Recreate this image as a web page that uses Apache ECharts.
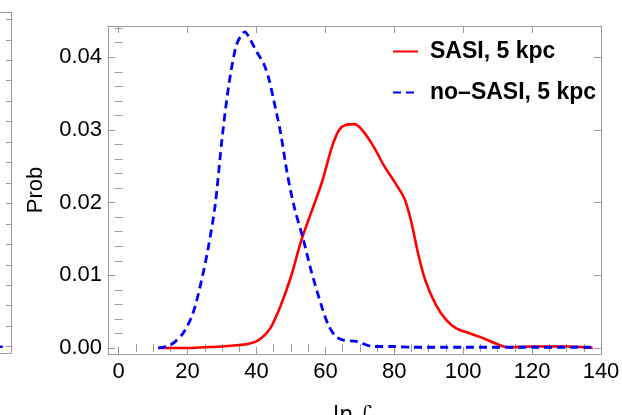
<!DOCTYPE html>
<html>
<head>
<meta charset="utf-8">
<script src="https://cdn.jsdelivr.net/npm/echarts@6/dist/echarts.min.js"></script>
<style>
html,body{margin:0;padding:0;background:#fff;}
#c{width:622px;height:415px;}
</style>
</head>
<body>
<div id="c"></div>
<script>
// ---- data ----
const sasiX = [11.5, 20, 25, 30, 35, 38, 41, 44, 47, 50, 53, 56, 59, 62, 64, 66, 68.5, 71, 74, 77, 80, 83, 85, 87, 89, 92, 95, 98, 102, 106, 110, 113, 120, 130, 137.6];
const sasiY = [0, 0, 0.0001, 0.0002, 0.0004, 0.0006, 0.0012, 0.0027, 0.0058, 0.0098, 0.0148, 0.0188, 0.0228, 0.0278, 0.0300, 0.0307, 0.0308, 0.0298, 0.0277, 0.0251, 0.0229, 0.0205, 0.0172, 0.0128, 0.0093, 0.0060, 0.0039, 0.0027, 0.0020, 0.0013, 0.0005, 0.0001, 0.0002, 0.0002, 0];

const noSasiX = [11.5, 15, 18.5, 21.5, 24, 26, 28, 30, 32, 34, 35.5, 36.6, 38, 40, 42, 43.5, 45, 47, 49, 51, 53.5, 56, 59, 61, 63, 65, 69, 74, 80, 85, 100, 120, 137.6];
const noSasiY = [0, 0.0004, 0.0019, 0.0047, 0.0092, 0.0138, 0.0196, 0.0288, 0.0363, 0.0414, 0.0430, 0.0435, 0.0426, 0.0408, 0.0392, 0.0372, 0.0341, 0.0296, 0.0238, 0.0193, 0.0151, 0.0104, 0.0056, 0.0030, 0.0016, 0.0011, 0.0009, 0.0002, 0.0002, 0.0001, 0.0001, 0.0001, 0.0001];

const seriesNames = ['SASI, 5 kpc', 'no\u2013SASI, 5 kpc'];
const xMajorTicks = [0, 20, 40, 60, 80, 100, 120, 140];
const xMinorTicks = [5, 10, 15, 25, 30, 35, 45, 50, 55, 65, 70, 75, 85, 90, 95, 105, 110, 115, 125, 130, 135];
const yMajorTicks = [0, 0.01, 0.02, 0.03, 0.04];
const yMinorTicks = [0.002, 0.004, 0.006, 0.008, 0.012, 0.014, 0.016, 0.018, 0.022, 0.024, 0.026, 0.028, 0.032, 0.034, 0.036, 0.038, 0.042, 0.044];
const xName = 'ln \u2112';
const yName = 'Prob';

// neighbouring (cropped) panel on the left
const nbTicks = [0,1,2,3,4,5,6,7,8,9,10,11,12,13,14,15,16];
const nbX = [136, 137.2];
const nbY = [0, 0];

const zip = (a, b) => a.map((v, i) => [v, b[i]]);
const FONT = "'Liberation Sans', Arial, sans-serif";
const FRAME = '#9a9a9a';

function xAx(opts) {
  return Object.assign({
    type: 'value', gridIndex: 0, min: -3.1, max: 140,
    axisLine: { show: true, onZero: false, lineStyle: { color: FRAME, width: 1 } },
    axisTick: { show: false },
    axisLabel: { show: false },
    splitLine: { show: false }
  }, opts);
}
function yAx(opts) {
  return Object.assign({
    type: 'value', gridIndex: 0, min: -0.00083, max: 0.0443,
    axisLine: { show: true, onZero: false, lineStyle: { color: FRAME, width: 1 } },
    axisTick: { show: false },
    axisLabel: { show: false },
    splitLine: { show: false }
  }, opts);
}
const tick = (vals, len) => ({ show: true, inside: true, length: len, customValues: vals, lineStyle: { color: FRAME, width: 1 } });

const chart = echarts.init(document.getElementById('c'), null, { renderer: 'canvas' });
chart.setOption({
  animation: false,
  backgroundColor: '#fff',
  textStyle: { fontFamily: FONT },
  grid: [
    { left: 108, right: 21, top: 26, bottom: 61, containLabel: false, outerBoundsMode: 'none' },
    { left: -400, width: 411, top: 12, height: 341, containLabel: false, outerBoundsMode: 'none' }
  ],
  legend: {
    orient: 'vertical',
    left: 387,
    top: 35,
    itemWidth: 25,
    itemHeight: 10,
    itemGap: 18,
    data: seriesNames,
    itemStyle: { color: 'rgba(0,0,0,0)', borderWidth: 0, opacity: 0 },
    textStyle: { fontFamily: FONT, fontSize: 23, fontWeight: 'bold', color: '#000', padding: [0, 0, 0, 7] }
  },
  xAxis: [
    xAx({ position: 'bottom', axisTick: tick(xMajorTicks, 7),
      axisLabel: { show: true, customValues: xMajorTicks, color: '#000', fontSize: 22, margin: 7, fontFamily: FONT },
      name: xName, nameLocation: 'middle', nameGap: 50,
      nameTextStyle: { color: '#000', fontSize: 22, fontFamily: "'DejaVu Sans', 'Liberation Sans', sans-serif" } }),
    xAx({ position: 'bottom', axisLine: { show: false }, axisTick: tick(xMinorTicks, 4) }),
    xAx({ position: 'top', axisTick: tick(xMajorTicks, 7) }),
    xAx({ position: 'top', axisLine: { show: false }, axisTick: tick(xMinorTicks, 4) }),
    // neighbour panel frame
    { type: 'value', gridIndex: 1, min: 0, max: 140, position: 'bottom',
      axisLine: { show: true, onZero: false, lineStyle: { color: FRAME } }, axisTick: { show: false }, axisLabel: { show: false }, splitLine: { show: false } },
    { type: 'value', gridIndex: 1, min: 0, max: 140, position: 'top',
      axisLine: { show: true, onZero: false, lineStyle: { color: FRAME } }, axisTick: { show: false }, axisLabel: { show: false }, splitLine: { show: false } }
  ],
  yAxis: [
    yAx({ position: 'left', axisTick: tick(yMajorTicks, 7),
      axisLabel: { show: true, customValues: yMajorTicks, color: '#000', fontSize: 22, margin: 6, fontFamily: FONT,
        formatter: v => Number(v).toFixed(2) },
      name: yName, nameLocation: 'middle', nameGap: 61, nameRotate: 90,
      nameTextStyle: { color: '#000', fontSize: 22, fontFamily: FONT } }),
    yAx({ position: 'left', axisLine: { show: false }, axisTick: tick(yMinorTicks, 4) }),
    yAx({ position: 'right', axisTick: tick(yMajorTicks, 7) }),
    yAx({ position: 'right', axisLine: { show: false }, axisTick: tick(yMinorTicks, 4) }),
    { type: 'value', gridIndex: 1, min: -0.31, max: 16.36, position: 'right',
      axisLine: { show: true, onZero: false, lineStyle: { color: FRAME } },
      axisTick: tick(nbTicks, 5), axisLabel: { show: false }, splitLine: { show: false } }
  ],
  series: [
    { name: seriesNames[0], type: 'line', xAxisIndex: 0, yAxisIndex: 0, data: zip(sasiX, sasiY),
      smooth: 0.3, symbol: 'none', lineStyle: { color: '#ff0000', width: 2.6 }, itemStyle: { color: '#ff0000' }, z: 3 },
    { name: seriesNames[1], type: 'line', xAxisIndex: 0, yAxisIndex: 0, data: zip(noSasiX, noSasiY),
      smooth: 0.3, symbol: 'none', lineStyle: { color: '#0000ff', width: 2.8, type: [8, 5] }, itemStyle: { color: '#0000ff' }, z: 4 },
    { name: 'nb', type: 'line', xAxisIndex: 4, yAxisIndex: 4, data: zip(nbX, nbY),
      symbol: 'none', lineStyle: { color: '#0000ff', width: 2.5 }, silent: true }
  ]
});
</script>
</body>
</html>
